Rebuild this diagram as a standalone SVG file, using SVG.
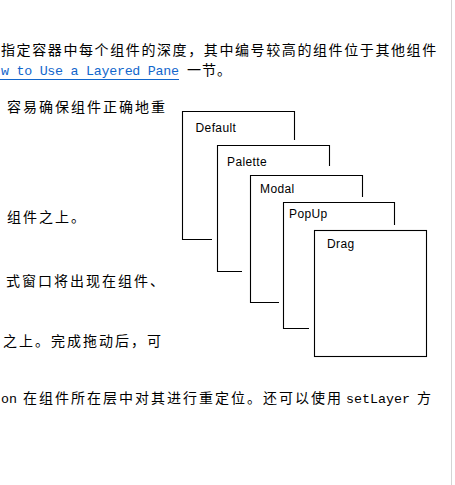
<svg xmlns="http://www.w3.org/2000/svg" width="455" height="485" viewBox="0 0 455 485">
<style>
.cjk{font-family:"Noto Sans CJK SC","Liberation Sans",sans-serif;font-size:14px;letter-spacing:2px;fill:#000}
.mono{font-family:"Liberation Mono",monospace;font-size:13.33px;fill:#000}
.link{fill:#1166cc}
.lbl{font-family:"Liberation Sans",Arial,sans-serif;font-size:12px;letter-spacing:0.4px;fill:#000}
.edge{fill:none;stroke:#000;stroke-width:1.1}
</style>
<rect x="0" y="0" width="455" height="485" fill="#fff"/>
<line x1="451.5" y1="0" x2="451.5" y2="485" stroke="#d4d4d4" stroke-width="1"/>
<g id="text">
<text class="cjk" x="1" y="55" style="letter-spacing:1.6px">指定容器中每个组件的深度，其中编号较高的组件位于其他组件</text>
<text class="mono link" x="1" y="75" textLength="178" lengthAdjust="spacing">w to Use a Layered Pane</text>
<line x1="0" y1="79.5" x2="179" y2="79.5" stroke="#1166cc" stroke-width="1"/>
<text class="cjk" x="187" y="75" style="letter-spacing:1px">一节。</text>
<text class="cjk" x="7" y="112">容易确保组件正确地重</text>
<text class="cjk" x="7" y="222">组件之上。</text>
<text class="cjk" x="6" y="286">式窗口将出现在组件、</text>
<text class="cjk" x="3" y="346">之上。完成拖动后，可</text>
<text class="mono" x="1" y="403">on</text>
<text class="cjk" x="23" y="403">在组件所在层中对其进行重定位。还可以使用</text>
<text class="mono" x="346" y="403">setLayer</text>
<text class="cjk" x="417" y="403">方</text>
</g>
<g id="connectors"></g>
<g id="layer-default">
<path class="edge" d="M212,239.5 H182.5 V111.5 H294.5 V140"/>
<text class="lbl" x="195.5" y="131.5">Default</text>
</g>
<g id="layer-palette">
<path class="edge" d="M242,271.5 H217.5 V145.5 H329.5 V166"/>
<text class="lbl" x="227" y="165.5">Palette</text>
</g>
<g id="layer-modal">
<path class="edge" d="M279,302.5 H250.5 V175.5 H362.5 V197"/>
<text class="lbl" x="260" y="192.5">Modal</text>
</g>
<g id="layer-popup">
<path class="edge" d="M309,328.5 H283.5 V202.5 H394.5 V225"/>
<text class="lbl" x="289" y="217.5">PopUp</text>
</g>
<g id="layer-drag">
<rect class="edge" x="314.5" y="230.5" width="112" height="126"/>
<text class="lbl" x="327" y="248">Drag</text>
</g>
</svg>
